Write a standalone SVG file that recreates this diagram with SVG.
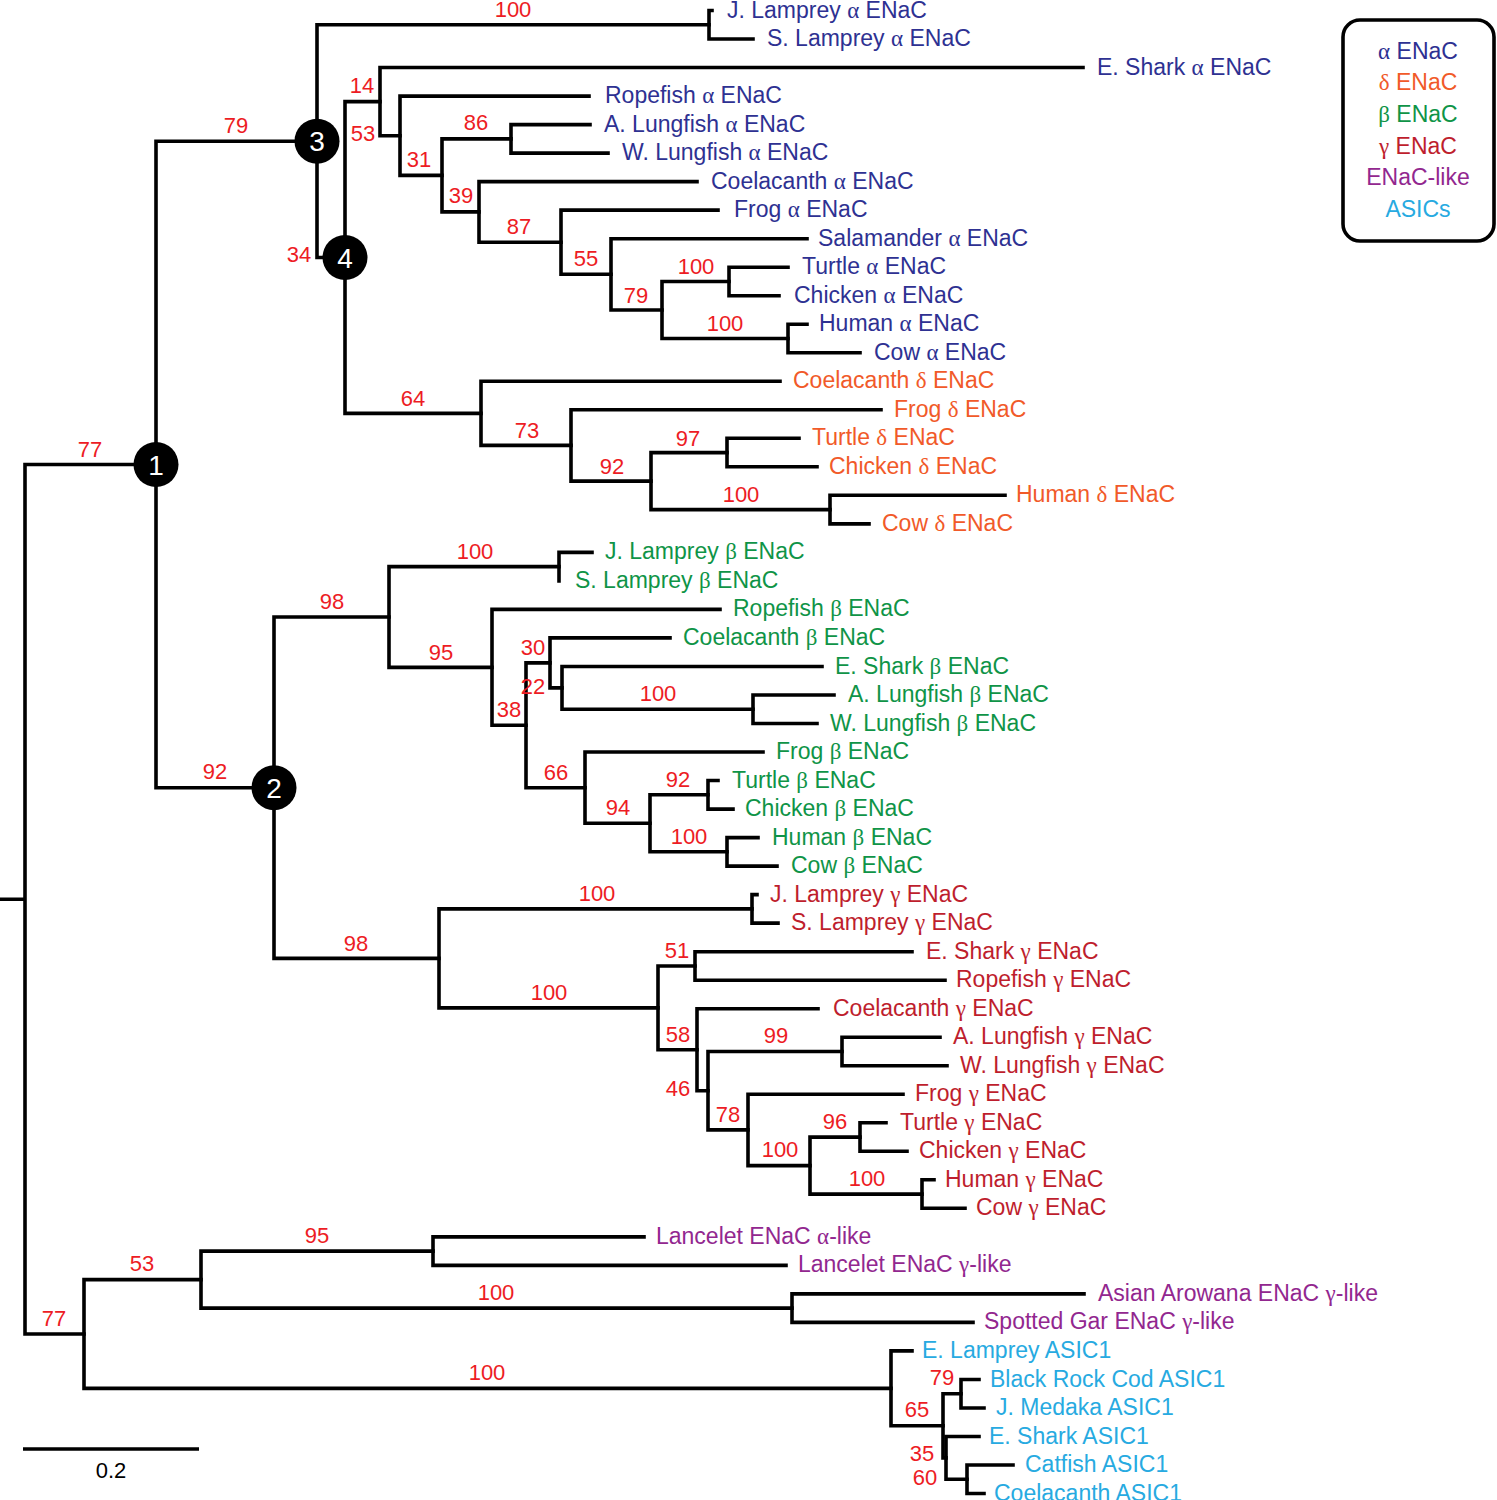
<svg xmlns="http://www.w3.org/2000/svg" width="1497" height="1500" viewBox="0 0 1497 1500">
<style>
.edge path{stroke:#000;stroke-width:3.6;fill:none;stroke-linecap:square}
text{font-family:"Liberation Sans",Arial,sans-serif}
.lbl{font-size:23px}
.bs{font-size:22px;fill:#ed1c24;text-anchor:middle}
.gk{font-family:"Liberation Serif","DejaVu Serif",serif}
.a{fill:#2e3192}.d{fill:#f15a29}.b{fill:#0f9447}.c{fill:#be1e2d}.el{fill:#92278f}.as{fill:#27aae1}
.nc{fill:#000}
.nt{fill:#fff;font-size:28px;text-anchor:middle}
.lg{font-size:23px;text-anchor:middle}
</style>
<rect width="1497" height="1500" fill="#fff"/>
<g id="connectors" class="edge">
<path d="M0 899.3H25 M25 464.5V1334 M25 464.5H156 M25 1334H84"/>
<path d="M156 141.2V787.7 M156 141.2H317 M156 787.7H274"/>
<path d="M317 24.8V257.5 M317 24.8H709 M317 257.5H345"/>
<path d="M709 10.5V39 M709 10.5H712 M709 39H753"/>
<path d="M345 101.6V413.4 M345 101.6H380 M345 413.4H481"/>
<path d="M380 67.5V135.7 M380 67.5H1083 M380 135.7H400"/>
<path d="M400 96.1V175.4 M400 96.1H589 M400 175.4H442"/>
<path d="M442 138.9V211.9 M442 138.9H511 M442 211.9H479"/>
<path d="M511 124.6V153.1 M511 124.6H590 M511 153.1H608"/>
<path d="M479 181.6V242.2 M479 181.6H697 M479 242.2H561"/>
<path d="M561 210.1V274.3 M561 210.1H718 M561 274.3H611"/>
<path d="M611 238.7V310 M611 238.7H807 M611 310H662"/>
<path d="M662 281.5V338.5 M662 281.5H729 M662 338.5H788"/>
<path d="M729 267.2V295.7 M729 267.2H788 M729 295.7H779"/>
<path d="M788 324.2V352.7 M788 324.2H807 M788 352.7H860"/>
<path d="M481 381.3V445.4 M481 381.3H780 M481 445.4H571"/>
<path d="M571 409.8V481.1 M571 409.8H881 M571 481.1H651"/>
<path d="M651 452.6V509.6 M651 452.6H727 M651 509.6H830"/>
<path d="M727 438.3V466.8 M727 438.3H799 M727 466.8H817"/>
<path d="M830 495.3V523.9 M830 495.3H1005 M830 523.9H869"/>
<path d="M274 617V958.4 M274 617H389 M274 958.4H439"/>
<path d="M389 566.6V667.4 M389 566.6H559 M389 667.4H492"/>
<path d="M559 552.4V580.9 M559 552.4H592"/>
<path d="M492 609.4V725.3 M492 609.4H720 M492 725.3H526"/>
<path d="M526 662.9V787.7 M526 662.9H550 M526 787.7H585"/>
<path d="M550 637.9V687.9 M550 637.9H670 M550 687.9H562"/>
<path d="M562 666.5V709.2 M562 666.5H822 M562 709.2H753"/>
<path d="M753 695V723.5 M753 695H834 M753 723.5H817"/>
<path d="M585 752V823.3 M585 752H763 M585 823.3H650"/>
<path d="M650 794.8V851.8 M650 794.8H708 M650 851.8H727"/>
<path d="M708 780.5V809.1 M708 780.5H718 M708 809.1H733"/>
<path d="M727 837.6V866.1 M727 837.6H758 M727 866.1H777"/>
<path d="M439 908.9V1007.9 M439 908.9H752 M439 1007.9H658"/>
<path d="M752 894.6V923.1 M752 894.6H757 M752 923.1H778"/>
<path d="M658 966V1049.7 M658 966H695 M658 1049.7H697"/>
<path d="M695 951.7V980.2 M695 951.7H912 M695 980.2H945"/>
<path d="M697 1008.7V1090.7 M697 1008.7H818 M697 1090.7H708"/>
<path d="M708 1051.5V1129.9 M708 1051.5H842 M708 1129.9H748"/>
<path d="M842 1037.2V1065.7 M842 1037.2H940 M842 1065.7H947"/>
<path d="M748 1094.3V1165.6 M748 1094.3H903 M748 1165.6H810"/>
<path d="M810 1137.1V1194.1 M810 1137.1H860 M810 1194.1H922"/>
<path d="M860 1122.8V1151.3 M860 1122.8H886 M860 1151.3H907"/>
<path d="M922 1179.8V1208.3 M922 1179.8H934 M922 1208.3H965"/>
<path d="M84 1279.6V1388.4 M84 1279.6H201 M84 1388.4H891"/>
<path d="M201 1251.1V1308.1 M201 1251.1H433 M201 1308.1H792"/>
<path d="M433 1236.9V1265.4 M433 1236.9H644 M433 1265.4H786"/>
<path d="M792 1293.9V1322.4 M792 1293.9H1084 M792 1322.4H973"/>
<path d="M891 1350.9V1425.8 M891 1350.9H912 M891 1425.8H943"/>
<path d="M943 1393.7V1457.9 M943 1393.7H961 M943 1457.9H946"/>
<path d="M961 1379.5V1408 M961 1379.5H979 M961 1408H984"/>
<path d="M946 1436.5V1479.2 M946 1436.5H979 M946 1479.2H967"/>
<path d="M967 1465V1493.5 M967 1465H1013 M967 1493.5H984"/>
</g>
<g id="scale-bar">
<path d="M23 1449H199" stroke="#000" stroke-width="3.6"/>
<text x="111" y="1478" font-size="22" text-anchor="middle" fill="#000">0.2</text>
</g>
<g id="numbered-nodes">
<g id="node-1"><circle class="nc" cx="156" cy="464.5" r="22.5"/><text class="nt" x="156" y="474.5">1</text></g>
<g id="node-2"><circle class="nc" cx="274" cy="787.7" r="22.5"/><text class="nt" x="274" y="797.7">2</text></g>
<g id="node-3"><circle class="nc" cx="317" cy="141.2" r="22.5"/><text class="nt" x="317" y="151.2">3</text></g>
<g id="node-4"><circle class="nc" cx="345" cy="257.5" r="22.5"/><text class="nt" x="345" y="267.5">4</text></g>
</g>
<g id="bootstrap">
<text class="bs" x="90" y="457">77</text>
<text class="bs" x="54" y="1326">77</text>
<text class="bs" x="236" y="133">79</text>
<text class="bs" x="215" y="779">92</text>
<text class="bs" x="513" y="17">100</text>
<text class="bs" x="299" y="262">34</text>
<text class="bs" x="362" y="93">14</text>
<text class="bs" x="363" y="141">53</text>
<text class="bs" x="419" y="167">31</text>
<text class="bs" x="476" y="130">86</text>
<text class="bs" x="461" y="203">39</text>
<text class="bs" x="519" y="234">87</text>
<text class="bs" x="586" y="266">55</text>
<text class="bs" x="696" y="274">100</text>
<text class="bs" x="636" y="303">79</text>
<text class="bs" x="725" y="331">100</text>
<text class="bs" x="413" y="406">64</text>
<text class="bs" x="527" y="438">73</text>
<text class="bs" x="612" y="474">92</text>
<text class="bs" x="688" y="446">97</text>
<text class="bs" x="741" y="502">100</text>
<text class="bs" x="332" y="609">98</text>
<text class="bs" x="475" y="559">100</text>
<text class="bs" x="441" y="660">95</text>
<text class="bs" x="533" y="655">30</text>
<text class="bs" x="533" y="694">22</text>
<text class="bs" x="509" y="717">38</text>
<text class="bs" x="658" y="701">100</text>
<text class="bs" x="556" y="780">66</text>
<text class="bs" x="678" y="787">92</text>
<text class="bs" x="618" y="815">94</text>
<text class="bs" x="689" y="844">100</text>
<text class="bs" x="356" y="951">98</text>
<text class="bs" x="597" y="901">100</text>
<text class="bs" x="549" y="1000">100</text>
<text class="bs" x="677" y="958">51</text>
<text class="bs" x="678" y="1042">58</text>
<text class="bs" x="776" y="1043">99</text>
<text class="bs" x="678" y="1096">46</text>
<text class="bs" x="728" y="1122">78</text>
<text class="bs" x="780" y="1157">100</text>
<text class="bs" x="835" y="1129">96</text>
<text class="bs" x="867" y="1186">100</text>
<text class="bs" x="142" y="1271">53</text>
<text class="bs" x="317" y="1243">95</text>
<text class="bs" x="496" y="1300">100</text>
<text class="bs" x="487" y="1380">100</text>
<text class="bs" x="942" y="1385">79</text>
<text class="bs" x="917" y="1417">65</text>
<text class="bs" x="922" y="1461">35</text>
<text class="bs" x="925" y="1485">60</text>
</g>
<g id="leaves" class="lbl">
<g id="leaf-jlamprey-a"><text class="a" x="727" y="17.5">J. Lamprey <tspan class="gk">α</tspan> ENaC</text></g>
<g id="leaf-slamprey-a"><text class="a" x="767" y="46">S. Lamprey <tspan class="gk">α</tspan> ENaC</text></g>
<g id="leaf-eshark-a"><text class="a" x="1097" y="74.5">E. Shark <tspan class="gk">α</tspan> ENaC</text></g>
<g id="leaf-ropefish-a"><text class="a" x="605" y="103.1">Ropefish <tspan class="gk">α</tspan> ENaC</text></g>
<g id="leaf-alungfish-a"><text class="a" x="604" y="131.6">A. Lungfish <tspan class="gk">α</tspan> ENaC</text></g>
<g id="leaf-wlungfish-a"><text class="a" x="622" y="160.1">W. Lungfish <tspan class="gk">α</tspan> ENaC</text></g>
<g id="leaf-coelacanth-a"><text class="a" x="711" y="188.6">Coelacanth <tspan class="gk">α</tspan> ENaC</text></g>
<g id="leaf-frog-a"><text class="a" x="734" y="217.1">Frog <tspan class="gk">α</tspan> ENaC</text></g>
<g id="leaf-salamander-a"><text class="a" x="818" y="245.7">Salamander <tspan class="gk">α</tspan> ENaC</text></g>
<g id="leaf-turtle-a"><text class="a" x="802" y="274.2">Turtle <tspan class="gk">α</tspan> ENaC</text></g>
<g id="leaf-chicken-a"><text class="a" x="794" y="302.7">Chicken <tspan class="gk">α</tspan> ENaC</text></g>
<g id="leaf-human-a"><text class="a" x="819" y="331.2">Human <tspan class="gk">α</tspan> ENaC</text></g>
<g id="leaf-cow-a"><text class="a" x="874" y="359.7">Cow <tspan class="gk">α</tspan> ENaC</text></g>
<g id="leaf-coelacanth-d"><text class="d" x="793" y="388.3">Coelacanth <tspan class="gk">δ</tspan> ENaC</text></g>
<g id="leaf-frog-d"><text class="d" x="894" y="416.8">Frog <tspan class="gk">δ</tspan> ENaC</text></g>
<g id="leaf-turtle-d"><text class="d" x="812" y="445.3">Turtle <tspan class="gk">δ</tspan> ENaC</text></g>
<g id="leaf-chicken-d"><text class="d" x="829" y="473.8">Chicken <tspan class="gk">δ</tspan> ENaC</text></g>
<g id="leaf-human-d"><text class="d" x="1016" y="502.3">Human <tspan class="gk">δ</tspan> ENaC</text></g>
<g id="leaf-cow-d"><text class="d" x="882" y="530.9">Cow <tspan class="gk">δ</tspan> ENaC</text></g>
<g id="leaf-jlamprey-b"><text class="b" x="605" y="559.4">J. Lamprey <tspan class="gk">β</tspan> ENaC</text></g>
<g id="leaf-slamprey-b"><text class="b" x="575" y="587.9">S. Lamprey <tspan class="gk">β</tspan> ENaC</text></g>
<g id="leaf-ropefish-b"><text class="b" x="733" y="616.4">Ropefish <tspan class="gk">β</tspan> ENaC</text></g>
<g id="leaf-coelacanth-b"><text class="b" x="683" y="644.9">Coelacanth <tspan class="gk">β</tspan> ENaC</text></g>
<g id="leaf-eshark-b"><text class="b" x="835" y="673.5">E. Shark <tspan class="gk">β</tspan> ENaC</text></g>
<g id="leaf-alungfish-b"><text class="b" x="848" y="702">A. Lungfish <tspan class="gk">β</tspan> ENaC</text></g>
<g id="leaf-wlungfish-b"><text class="b" x="830" y="730.5">W. Lungfish <tspan class="gk">β</tspan> ENaC</text></g>
<g id="leaf-frog-b"><text class="b" x="776" y="759">Frog <tspan class="gk">β</tspan> ENaC</text></g>
<g id="leaf-turtle-b"><text class="b" x="732" y="787.5">Turtle <tspan class="gk">β</tspan> ENaC</text></g>
<g id="leaf-chicken-b"><text class="b" x="745" y="816.1">Chicken <tspan class="gk">β</tspan> ENaC</text></g>
<g id="leaf-human-b"><text class="b" x="772" y="844.6">Human <tspan class="gk">β</tspan> ENaC</text></g>
<g id="leaf-cow-b"><text class="b" x="791" y="873.1">Cow <tspan class="gk">β</tspan> ENaC</text></g>
<g id="leaf-jlamprey-g"><text class="c" x="770" y="901.6">J. Lamprey <tspan class="gk">γ</tspan> ENaC</text></g>
<g id="leaf-slamprey-g"><text class="c" x="791" y="930.1">S. Lamprey <tspan class="gk">γ</tspan> ENaC</text></g>
<g id="leaf-eshark-g"><text class="c" x="926" y="958.7">E. Shark <tspan class="gk">γ</tspan> ENaC</text></g>
<g id="leaf-ropefish-g"><text class="c" x="956" y="987.2">Ropefish <tspan class="gk">γ</tspan> ENaC</text></g>
<g id="leaf-coelacanth-g"><text class="c" x="833" y="1015.7">Coelacanth <tspan class="gk">γ</tspan> ENaC</text></g>
<g id="leaf-alungfish-g"><text class="c" x="953" y="1044.2">A. Lungfish <tspan class="gk">γ</tspan> ENaC</text></g>
<g id="leaf-wlungfish-g"><text class="c" x="960" y="1072.7">W. Lungfish <tspan class="gk">γ</tspan> ENaC</text></g>
<g id="leaf-frog-g"><text class="c" x="915" y="1101.3">Frog <tspan class="gk">γ</tspan> ENaC</text></g>
<g id="leaf-turtle-g"><text class="c" x="900" y="1129.8">Turtle <tspan class="gk">γ</tspan> ENaC</text></g>
<g id="leaf-chicken-g"><text class="c" x="919" y="1158.3">Chicken <tspan class="gk">γ</tspan> ENaC</text></g>
<g id="leaf-human-g"><text class="c" x="945" y="1186.8">Human <tspan class="gk">γ</tspan> ENaC</text></g>
<g id="leaf-cow-g"><text class="c" x="976" y="1215.3">Cow <tspan class="gk">γ</tspan> ENaC</text></g>
<g id="leaf-lancelet-a"><text class="el" x="656" y="1243.9">Lancelet ENaC <tspan class="gk">α</tspan>-like</text></g>
<g id="leaf-lancelet-g"><text class="el" x="798" y="1272.4">Lancelet ENaC <tspan class="gk">γ</tspan>-like</text></g>
<g id="leaf-arowana"><text class="el" x="1098" y="1300.9">Asian Arowana ENaC <tspan class="gk">γ</tspan>-like</text></g>
<g id="leaf-gar"><text class="el" x="984" y="1329.4">Spotted Gar ENaC <tspan class="gk">γ</tspan>-like</text></g>
<g id="leaf-elamprey-asic"><text class="as" x="922" y="1357.9">E. Lamprey ASIC1</text></g>
<g id="leaf-cod-asic"><text class="as" x="990" y="1386.5">Black Rock Cod ASIC1</text></g>
<g id="leaf-medaka-asic"><text class="as" x="996" y="1415">J. Medaka ASIC1</text></g>
<g id="leaf-eshark-asic"><text class="as" x="989" y="1443.5">E. Shark ASIC1</text></g>
<g id="leaf-catfish-asic"><text class="as" x="1025" y="1472">Catfish ASIC1</text></g>
<g id="leaf-coelacanth-asic"><text class="as" x="994" y="1500.5">Coelacanth ASIC1</text></g>
</g>
<g id="legend">
<rect x="1343" y="20" width="151" height="221" rx="17" fill="none" stroke="#000" stroke-width="3.6"/>
<text class="lg a" x="1418" y="59"><tspan class="gk">α</tspan> ENaC</text>
<text class="lg d" x="1418" y="90"><tspan class="gk">δ</tspan> ENaC</text>
<text class="lg b" x="1418" y="122"><tspan class="gk">β</tspan> ENaC</text>
<text class="lg c" x="1418" y="154"><tspan class="gk">γ</tspan> ENaC</text>
<text class="lg el" x="1418" y="185">ENaC-like</text>
<text class="lg as" x="1418" y="217">ASICs</text>
</g>
</svg>
